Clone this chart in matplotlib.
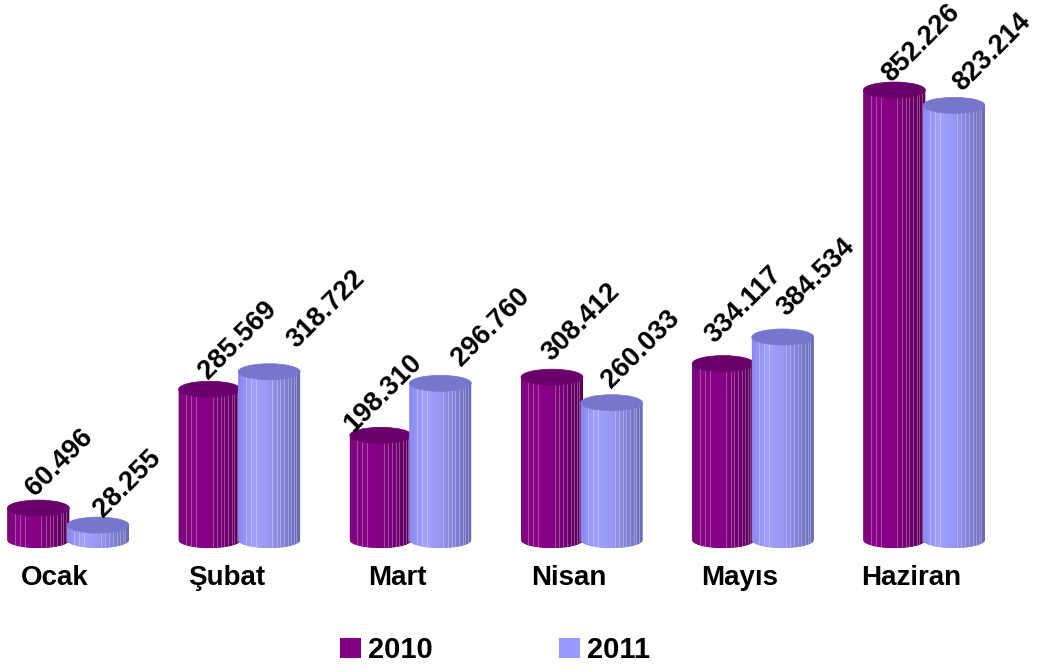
import numpy as np
import matplotlib
matplotlib.use('Agg')
import matplotlib.pyplot as plt
from matplotlib.patches import Ellipse, PathPatch, Patch
from matplotlib.path import Path
from matplotlib.colors import LinearSegmentedColormap

months = ['Ocak', 'Şubat', 'Mart', 'Nisan', 'Mayıs', 'Haziran']
series_names = ['2010', '2011']
values_2010 = [60496, 285569, 198310, 308412, 334117, 852226]
values_2011 = [28255, 318722, 296760, 260033, 384534, 823214]

plt.rcParams['font.family'] = ['Liberation Sans', 'DejaVu Sans']
plt.rcParams['font.weight'] = 'bold'

base_cols = ['#800080', '#9999ff']
top_cols = ['#6a006a', '#7676cc']
body_grads = [
    ['#7c087c', '#8a008a', '#840084', '#700070', '#5a005a'],
    ['#8a8aee', '#a0a0ff', '#9898f4', '#8080d6', '#6a6ab4'],
]

fig = plt.figure(figsize=(10.38, 6.71), dpi=100)
ax = fig.add_axes([0, 0, 1, 1])
ax.axis('off')

px = 0.000528           # pixels per unit value
ry = 8 / px             # half height of the ellipses
width = 0.362
offsets = [-0.173, 0.175]
# label nudges in pixels (the labels were placed by hand in the original)
label_dx = [[21, 28, 2, 29, 20, 27], [30, 57, 50, 29, 33, 38]]
label_dy = [[7, 5, -2, 11, 15, 3], [3, 18, 12, 9, 16, 9]]
stripes = [0.12, 0.2, 0.28, 0.55, 0.62, 0.68, 0.74, 0.8, 0.86, 0.9, 0.94]


def cylinder(xc, v, k, z):
    x0, x1 = xc - width / 2, xc + width / 2
    t = np.linspace(np.pi, 2 * np.pi, 60)
    verts = [(x0, v), (x0, 0)]
    verts += list(zip(xc + width / 2 * np.cos(t), ry * np.sin(t)))
    verts += [(x1, 0), (x1, v), (x0, v)]
    codes = [Path.MOVETO] + [Path.LINETO] * (len(verts) - 2) + [Path.CLOSEPOLY]
    body = PathPatch(Path(verts, codes), facecolor=base_cols[k], edgecolor='none', zorder=z)
    ax.add_patch(body)
    cmap = LinearSegmentedColormap.from_list('g%d' % k, body_grads[k])
    im = ax.imshow(np.linspace(0, 1, 100).reshape(1, -1), cmap=cmap, aspect='auto',
                   extent=(x0, x1, -ry, v), zorder=z + 0.1, interpolation='bilinear')
    im.set_clip_path(body)
    ln = ax.vlines([x0 + f * width for f in stripes], -ry, v, colors='white',
                   alpha=0.3, lw=0.7, zorder=z + 0.2)
    ln.set_clip_path(body)
    ax.add_patch(Ellipse((xc, v), width, 2 * ry, facecolor=top_cols[k],
                         edgecolor=top_cols[k], lw=0.5, zorder=z + 0.3))


for i, m in enumerate(months):
    for k, vals in enumerate([values_2010, values_2011]):
        xc = i + offsets[k]
        v = vals[i]
        cylinder(xc, v, k, 2 + 2 * i + k)
        ax.text(xc + label_dx[k][i] / 171.2, v + label_dy[k][i] / px,
                f'{v:,}'.replace(',', '.'), rotation=45, ha='center', va='bottom',
                fontsize=19.5, fontweight='bold', zorder=30)
    ax.text(i - 0.075, -38 / px, m, ha='center', va='center', fontsize=20,
            fontweight='bold')

ax.set_xlim(-68 / 171.2, (1038 - 68) / 171.2)
ax.set_ylim(-131 / px, 540 / px)

handles = [Patch(facecolor=c, edgecolor='none') for c in base_cols]
fig.legend(handles, series_names, loc='center', bbox_to_anchor=(0.477, 1 - 650 / 671),
           ncol=2, frameon=False, prop={'size': 21, 'weight': 'bold'},
           handlelength=0.7, handleheight=0.7, handletextpad=0.25, columnspacing=4.35)

fig.savefig('out.png', dpi=100)
